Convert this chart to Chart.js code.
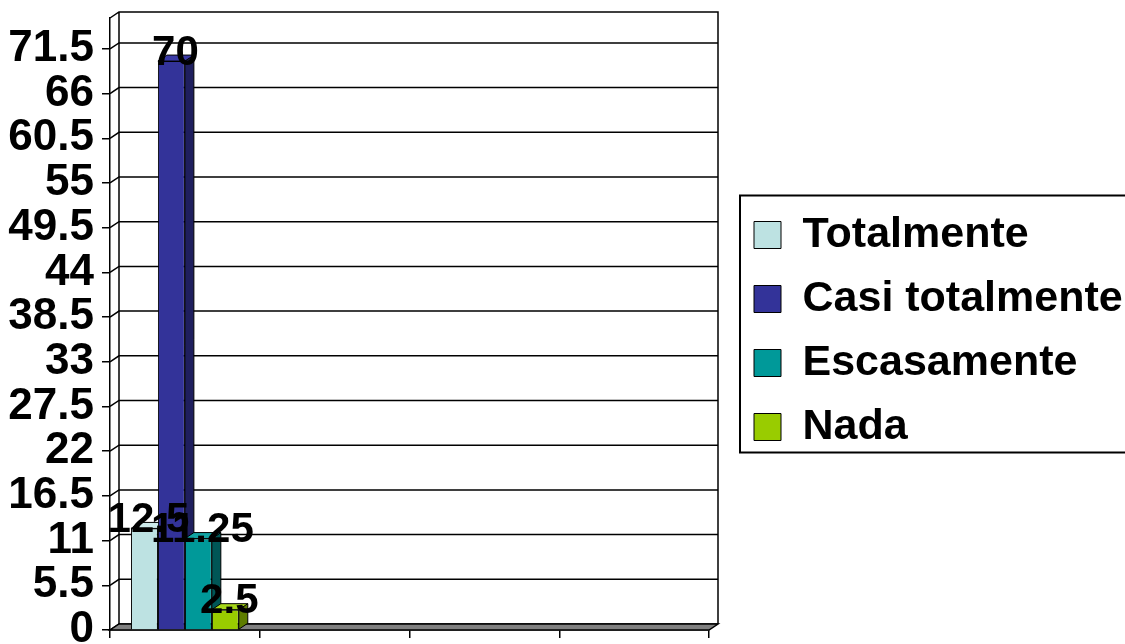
<!DOCTYPE html>
<html>
<head>
<meta charset="utf-8">
<title>Grado de cumplimiento</title>
<script src="https://cdn.jsdelivr.net/npm/chart.js@4.4.1/dist/chart.umd.min.js"></script>
<style>
  html, body { margin: 0; padding: 0; background: #fff; }
  #wrap { width: 1125px; height: 644px; position: relative; }
</style>
</head>
<body>
<div id="wrap"><canvas id="chart"></canvas></div>
<script>
// categories: only the first slot holds data, the other three are empty
const categories = ['', '', '', ''];
const seriesNames = ['Totalmente', 'Casi totalmente', 'Escasamente', 'Nada'];
const totalmente = [12.5, null, null, null];
const casiTotalmente = [70, null, null, null];
const escasamente = [11.25, null, null, null];
const nada = [2.5, null, null, null];
const yTicks = [0, 5.5, 11, 16.5, 22, 27.5, 33, 38.5, 44, 49.5, 55, 60.5, 66, 71.5];
const yMax = 75.3;

const frontColors = ['#bde2e2', '#333399', '#009999', '#99cc00'];
const sideColors = ['#86a9a9', '#1f1f5e', '#005656', '#5e7d00'];
const topColors = ['#cdeaea', '#3a3aa6', '#12a3a3', '#a6d61a'];

// depth of the fake 3d box
const DX = 9, DY = 6;
const FONT = "'Liberation Sans', Arial, sans-serif";

Chart.defaults.font.family = FONT;
Chart.defaults.color = '#000';

function poly(ctx, pts, fill) {
    ctx.beginPath();
    ctx.moveTo(pts[0][0], pts[0][1]);
    for (let i = 1; i < pts.length; i++) ctx.lineTo(pts[i][0], pts[i][1]);
    ctx.closePath();
    if (fill) { ctx.fillStyle = fill; ctx.fill(); }
    ctx.stroke();
}

// back wall, floor and the side / top faces of the bars
const depthPlugin = {
    id: 'depth',
    afterInit(chart) {
        const lg = chart.legend;
        const fit = lg.fit.bind(lg);
        lg.fit = function() { fit(); this.width = 416; };
    },
    afterLayout(chart) {
        const lg = chart.legend;
        lg.left += 24;
        lg.right += 24;
    },
    beforeDatasetsDraw(chart) {
        const ctx = chart.ctx;
        const a = chart.chartArea;
        const y = chart.scales.y;
        ctx.save();
        ctx.strokeStyle = '#000';
        ctx.lineWidth = 1.5;
        // gridlines on the back wall, joined to the front axis
        y.ticks.forEach(t => {
            const py = y.getPixelForValue(t.value);
            ctx.beginPath();
            ctx.moveTo(a.left, py);
            ctx.lineTo(a.left + DX, py - DY);
            ctx.lineTo(a.right + DX, py - DY);
            ctx.stroke();
        });
        // back wall outline
        ctx.beginPath();
        ctx.moveTo(a.left, a.top);
        ctx.lineTo(a.left + DX, a.top - DY);
        ctx.lineTo(a.right + DX, a.top - DY);
        ctx.lineTo(a.right + DX, a.bottom - DY);
        ctx.moveTo(a.left + DX, a.top - DY);
        ctx.lineTo(a.left + DX, a.bottom - DY);
        ctx.stroke();
        // floor
        poly(ctx, [[a.left, a.bottom], [a.right, a.bottom], [a.right + DX, a.bottom - DY], [a.left + DX, a.bottom - DY]], '#808080');
        // side and top faces, left to right
        ctx.lineWidth = 1;
        chart.data.datasets.forEach((ds, i) => {
            const meta = chart.getDatasetMeta(i);
            meta.data.forEach((el, j) => {
                if (ds.data[j] == null) return;
                const l = el.x - el.width / 2, r = el.x + el.width / 2;
                poly(ctx, [[r, el.y], [r + DX, el.y - DY], [r + DX, el.base - DY], [r, el.base]], sideColors[i]);
                poly(ctx, [[l, el.y], [l + DX, el.y - DY], [r + DX, el.y - DY], [r, el.y]], topColors[i]);
            });
        });
        ctx.restore();
    },
    afterDatasetsDraw(chart) {
        const ctx = chart.ctx;
        ctx.save();
        ctx.fillStyle = '#000';
        ctx.font = 'bold 42px ' + FONT;
        ctx.textAlign = 'center';
        ctx.textBaseline = 'middle';
        chart.data.datasets.forEach((ds, i) => {
            const meta = chart.getDatasetMeta(i);
            meta.data.forEach((el, j) => {
                if (ds.data[j] == null) return;
                ctx.fillText(String(ds.data[j]), el.x + 4, el.y - 8);
            });
        });
        ctx.restore();
    },
    afterDraw(chart) {
        const lg = chart.legend;
        const boxes = lg.legendHitBoxes;
        if (!boxes || !boxes.length) return;
        const ctx = chart.ctx;
        const first = boxes[0], last = boxes[boxes.length - 1];
        ctx.save();
        ctx.strokeStyle = '#000';
        ctx.lineWidth = 2;
        const x = first.left - 14;
        const top = first.top - 18;
        const bottom = last.top + last.height + 4;
        ctx.strokeRect(x, top, chart.width + 10 - x, bottom - top);
        ctx.restore();
    }
};

const sets = [totalmente, casiTotalmente, escasamente, nada];

new Chart(document.getElementById('chart'), {
    type: 'bar',
    data: {
        labels: categories,
        datasets: sets.map((d, i) => ({
            label: seriesNames[i],
            data: d,
            backgroundColor: frontColors[i],
            borderColor: '#000',
            borderWidth: 1,
            categoryPercentage: 0.72,
            barPercentage: 1
        }))
    },
    options: {
        responsive: true,
        maintainAspectRatio: false,
        animation: false,
        layout: { padding: { top: 18, left: 0, right: 0, bottom: 0 } },
        plugins: {
            tooltip: { enabled: false },
            legend: {
                position: 'right',
                align: 'center',
                labels: {
                    boxWidth: 27,
                    boxHeight: 27,
                    padding: 21,
                    color: '#000',
                    font: { size: 43, weight: 'bold', family: FONT },
                    sort: (a, b) => a.datasetIndex - b.datasetIndex
                }
            }
        },
        scales: {
            x: {
                grid: { offset: true, drawOnChartArea: false, drawTicks: true, tickLength: 8, color: '#000', lineWidth: 1.5 },
                border: { display: true, color: '#000', width: 1.5 },
                ticks: { display: true },
                afterFit(scale) {
                    scale.height = 14;
                    scale.paddingLeft = 0;
                    scale.paddingRight = 0;
                }
            },
            y: {
                min: 0,
                max: yMax,
                afterBuildTicks(scale) {
                    scale.ticks = yTicks.map(v => ({ value: v }));
                },
                grid: { drawOnChartArea: false, drawTicks: true, tickLength: 8, color: '#000', lineWidth: 1.5 },
                border: { display: true, color: '#000', width: 1.5 },
                ticks: {
                    autoSkip: false,
                    padding: 8,
                    color: '#000',
                    font: { size: 44, weight: 'bold', family: FONT, lineHeight: 1 },
                    callback: v => String(v)
                },
                afterFit(scale) {
                    scale.width = 110;
                    scale.paddingTop = 0;
                    scale.paddingBottom = 0;
                }
            }
        }
    },
    plugins: [depthPlugin]
});
</script>
</body>
</html>
